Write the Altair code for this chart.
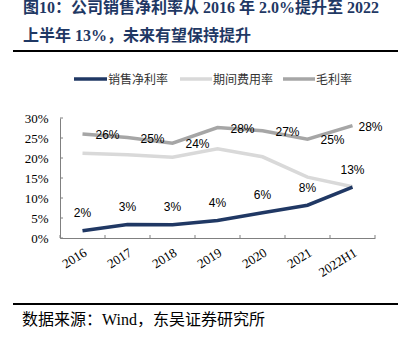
import altair as alt
import pandas as pd

years = ["2016", "2017", "2018", "2019", "2020", "2021", "2022H1"]
net_margin = [1.8, 3.4, 3.3, 4.4, 6.3, 8.2, 12.7]
expense_ratio = [21.2, 20.8, 20.2, 22.3, 20.3, 15.2, 12.8]
gross_margin = [26.0, 25.1, 23.7, 27.6, 26.8, 24.7, 28.1]
series_names = ["销售净利率", "期间费用率", "毛利率"]
series_colors = ["#203864", "#D9D9D9", "#A6A6A6"]
y_ticks = [0, 0.05, 0.10, 0.15, 0.20, 0.25, 0.30]

title1 = "图10：公司销售净利率从 2016 年 2.0%提升至 2022"
title2 = "上半年 13%，未来有望保持提升"
source = "数据来源：Wind，东吴证券研究所"

rows = []
for name, vals in zip(series_names, [net_margin, expense_ratio, gross_margin]):
    for i, (y, v) in enumerate(zip(years, vals)):
        rows.append({"year": y, "series": name, "value": v / 100, "last": i == len(years) - 1})
df = pd.DataFrame(rows)

W, H = 315, 120
serif_cjk = "Liberation Serif, Noto Sans CJK SC"

xscale = alt.Scale(type="band", domain=years, paddingInner=0, paddingOuter=0)
yscale = alt.Scale(domain=[0, 0.30])
xaxis = alt.Axis(title=None, labelAngle=-32, labelFont="Liberation Serif",
                 labelFontSize=13, labelColor="#000000", tickSize=0,
                 labelPadding=8, domainColor="#808080", grid=False)
yaxis = alt.Axis(title=None, values=y_ticks, format=".0%", labelFont="Liberation Serif",
                 labelFontSize=13, labelColor="#000000", tickSize=0,
                 labelPadding=12, domainColor="#808080", grid=False)


def X(bp=0.5):
    return alt.X("year:N", scale=xscale, bandPosition=bp, axis=xaxis)


Y = alt.Y("value:Q", scale=yscale, axis=yaxis)

line_exp = alt.Chart(df).transform_filter(alt.datum.series == series_names[1]).mark_line(
    strokeWidth=3.5, color=series_colors[1]).encode(x=X(), y=Y)
line_gross = alt.Chart(df).transform_filter(alt.datum.series == series_names[2]).mark_line(
    strokeWidth=3.5, color=series_colors[2]).encode(x=X(), y=Y)
line_net = alt.Chart(df).transform_filter(alt.datum.series == series_names[0]).mark_line(
    strokeWidth=3.5, color=series_colors[0]).encode(x=X(), y=Y)

lab_font = dict(font="Liberation Sans", fontSize=12, color="#000000")
net_labels = alt.Chart(df).transform_filter(alt.datum.series == series_names[0]).mark_text(
    dy=-17.5, **lab_font).encode(x=X(), y=Y, text=alt.Text("value:Q", format=".0%"))
gross_labels = alt.Chart(df).transform_filter(
    (alt.datum.series == series_names[2]) & (alt.datum["last"] == False)).mark_text(
    dx=25, dy=1, **lab_font).encode(x=X(), y=Y, text=alt.Text("value:Q", format=".0%"))
gross_last = alt.Chart(df).transform_filter(
    (alt.datum.series == series_names[2]) & (alt.datum["last"] == True)).mark_text(
    dx=18, dy=1, **lab_font).encode(x=X(), y=Y, text=alt.Text("value:Q", format=".0%"))

# inward ticks
tick_df = pd.DataFrame({"year": years})
xticks = alt.Chart(tick_df).mark_rule(color="#808080", strokeWidth=1).encode(
    x=X(0), y=alt.value(H), y2=alt.value(H - 3))
xtick_end = alt.Chart(tick_df).transform_filter(alt.datum.year == years[-1]).mark_rule(
    color="#808080", strokeWidth=1).encode(
    x=X(1), y=alt.value(H), y2=alt.value(H - 3))
ytick_df = pd.DataFrame({"value": y_ticks})
yticks = alt.Chart(ytick_df).mark_rule(color="#808080", strokeWidth=1).encode(
    y=Y, x=alt.value(0), x2=alt.value(3))

# legend
leg_layers = []
for name, c, x0, tx in zip(series_names, series_colors, [74, 180, 283], [108, 213, 316]):
    leg_layers.append(alt.Chart(pd.DataFrame({"s": [name]})).mark_rule(
        color=c, strokeWidth=3.5).encode(
        x=alt.value(x0 - 60), x2=alt.value(tx - 60 - 1), y=alt.value(79 - 118)))
    leg_layers.append(alt.Chart(pd.DataFrame({"s": [name]})).mark_text(
        align="left", baseline="middle", font=serif_cjk, fontSize=12, color="#333333").encode(
        x=alt.value(tx - 60), y=alt.value(80 - 118), text="s:N"))

# titles and rules
txt = pd.DataFrame({"t": [title1, title2, source]})
t1 = alt.Chart(txt).transform_filter(alt.datum.t == title1).mark_text(
    align="left", baseline="middle", font=serif_cjk, fontSize=16, fontWeight="bold",
    color="#1F3864").encode(x=alt.value(23 - 60), y=alt.value(8 - 118), text="t:N")
t2 = alt.Chart(txt).transform_filter(alt.datum.t == title2).mark_text(
    align="left", baseline="middle", font=serif_cjk, fontSize=16, fontWeight="bold",
    color="#1F3864").encode(x=alt.value(23 - 60), y=alt.value(36 - 118), text="t:N")
src = alt.Chart(txt).transform_filter(alt.datum.t == source).mark_text(
    align="left", baseline="middle", font=serif_cjk, fontSize=16, color="#000000").encode(
    x=alt.value(22 - 60), y=alt.value(320 - 118), text="t:N")
rule1 = alt.Chart(txt).transform_filter(alt.datum.t == title1).mark_rule(
    color="#000000", strokeWidth=2).encode(
    x=alt.value(13 - 60), x2=alt.value(398 - 60), y=alt.value(51 - 118))
rule2 = alt.Chart(txt).transform_filter(alt.datum.t == source).mark_rule(
    color="#000000", strokeWidth=2).encode(
    x=alt.value(13 - 60), x2=alt.value(398 - 60), y=alt.value(304 - 118))

chart = alt.layer(
    line_exp, line_gross, line_net, net_labels, gross_labels, gross_last,
    xticks, xtick_end, yticks, *leg_layers, t1, t2, src, rule1, rule2
).properties(
    width=W, height=H,
    autosize=alt.AutoSizeParams(type="none"),
    padding={"left": 60, "top": 118, "right": 37, "bottom": 108},
    background="#FFFFFF",
).configure_view(stroke=None)

chart.save("out.html", embed_options={"renderer": "svg", "actions": False})
